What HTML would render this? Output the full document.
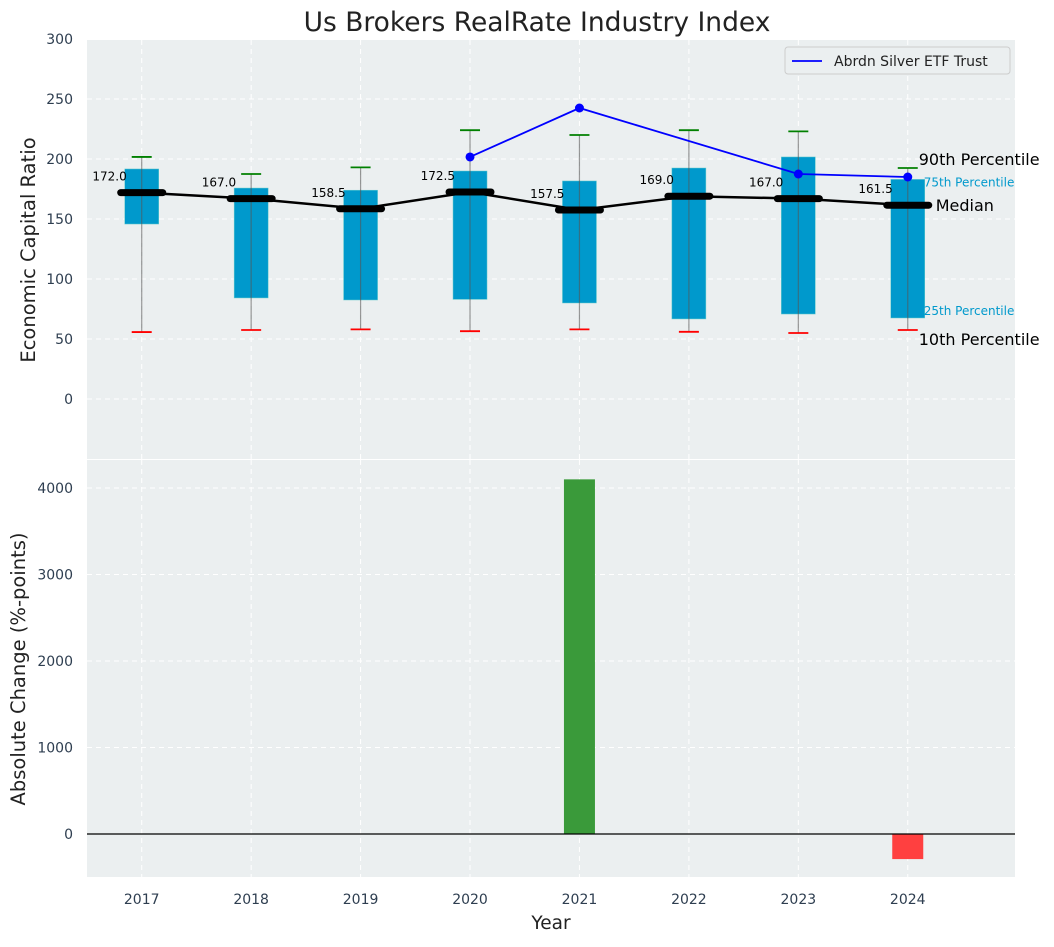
<!DOCTYPE html>
<html><head><meta charset="utf-8"><style>
body{margin:0;background:#fff;font-family:"Liberation Sans","DejaVu Sans",sans-serif}
svg text{font-family:"DejaVu Sans","Liberation Sans",sans-serif}
</style></head><body>
<svg id="c" width="1054" height="942" xmlns="http://www.w3.org/2000/svg"></svg>
<script>
const years=['2017','2018','2019','2020','2021','2022','2023','2024'];
const q1=[145.8,84.2,82.5,83,80,66.7,70.8,67.5];
const q3=[191.7,175.8,174,190,181.7,192.5,201.7,183];
const p10=[55.8,57.5,58,56.5,58,56,55,57.5];
const p90=[201.7,187.5,193,224,220,224,223,192.5];
const med=[172.0,167.0,158.5,172.5,157.5,169.0,167.0,161.5];
const silverIdx=[3,4,6,7];
const silverVals=[201.7,242.5,187.5,185];
const changeVals=[0,0,0,0,4100,0,0,-290];
const topTicks=[0,50,100,150,200,250,300];
const botTicks=[0,1000,2000,3000,4000];

const NS='http://www.w3.org/2000/svg';
const svg=document.getElementById('c');
function el(t,a,txt){const e=document.createElementNS(NS,t);for(const k in a)e.setAttribute(k,a[k]);if(txt!==undefined)e.textContent=txt;svg.appendChild(e);return e;}
const L=87,R=1015;
const x=i=>L+(i+0.5)*(R-L)/8.48;
const yT=v=>399-v*1.2;
const yB=v=>834-v*0.0865;

let e;
e=el('rect',{x:L,y:40,width:R-L,height:419,fill:'#ebeff0'});


e=el('rect',{x:L,y:460,width:R-L,height:417,fill:'#ebeff0'});



topTicks.forEach(v=>{
  el('line',{x1:L,x2:R,y1:yT(v),y2:yT(v),stroke:'#fff','stroke-dasharray':'5,4','stroke-width':1});
  e=el('text',{x:L-14,y:yT(v)+5,'text-anchor':'end','font-size':14,fill:'#2e3e50'},v);
  
  
});
botTicks.forEach(v=>{
  el('line',{x1:L,x2:R,y1:yB(v),y2:yB(v),stroke:'#fff','stroke-dasharray':'5,4','stroke-width':1});
  e=el('text',{x:L-14,y:yB(v)+5,'text-anchor':'end','font-size':14,fill:'#2e3e50'},v);
  
  
});
years.forEach((yr,i)=>{
  el('line',{x1:x(i),x2:x(i),y1:40,y2:459,stroke:'#fff','stroke-dasharray':'5,4'});
  el('line',{x1:x(i),x2:x(i),y1:460,y2:877,stroke:'#fff','stroke-dasharray':'5,4'});
  e=el('text',{x:x(i),y:904,'text-anchor':'middle','font-size':14,fill:'#2e3e50'},yr);
  
  
});

years.forEach((yr,i)=>{
  const cx=x(i);
  e=el('rect',{x:cx-17,y:yT(q3[i]),width:34,height:yT(q1[i])-yT(q3[i]),fill:'#0099cc',stroke:'#6cc',"stroke-width":0.5});
  
  
  el('line',{x1:cx,x2:cx,y1:yT(p90[i]),y2:yT(p10[i]),stroke:'#555','stroke-opacity':0.6,'stroke-width':1.2});
  el('line',{x1:cx-10,x2:cx+10,y1:yT(p90[i]),y2:yT(p90[i]),stroke:'green','stroke-width':1.8});
  el('line',{x1:cx-10,x2:cx+10,y1:yT(p10[i]),y2:yT(p10[i]),stroke:'red','stroke-width':1.8});
});
e=el('polyline',{points:med.map((v,i)=>x(i)+','+yT(v)).join(' '),fill:'none',stroke:'#000','stroke-width':2.5});


med.forEach((v,i)=>{
  e=el('line',{x1:x(i)-21,x2:x(i)+21,y1:yT(v),y2:yT(v),stroke:'#000','stroke-width':7,'stroke-linecap':'round'});
  
  
  e=el('text',{x:x(i)-15,y:yT(v)-12,'text-anchor':'end','font-size':12,fill:'#000'},v.toFixed(1));
  
  
});
e=el('polyline',{points:silverIdx.map((k,j)=>x(k)+','+yT(silverVals[j])).join(' '),fill:'none',stroke:'blue','stroke-width':1.8});


silverIdx.forEach((k,j)=>{
  e=el('circle',{cx:x(k),cy:yT(silverVals[j]),r:4.5,fill:'blue'});
  
  
});
const ax=x(7);
[['90th Percentile',ax+11,yT(p90[7])-3,16,'#000'],['75th Percentile',ax+16,yT(q3[7])+7,12,'#0099cc'],['Median',ax+28,yT(med[7])+6,16,'#000'],['25th Percentile',ax+16,yT(q1[7])-3,12,'#0099cc'],['10th Percentile',ax+11,yT(p10[7])+15,16,'#000']].forEach(a=>{
  e=el('text',{x:a[1],y:a[2],'font-size':a[3],fill:a[4]},a[0]);
  
  
});
e=el('rect',{x:785,y:47,width:225,height:27,rx:3,fill:'#ebeff0',stroke:'#ccc'});


el('line',{x1:792,x2:822,y1:61,y2:61,stroke:'blue','stroke-width':1.8});
e=el('text',{x:834,y:66,'font-size':14,fill:'#222'},'Abrdn Silver ETF Trust');



changeVals.forEach((v,i)=>{
  if(!v)return;
  e=el('rect',{x:x(i)-15.5,y:Math.min(yB(v),yB(0)),width:31,height:Math.abs(yB(v)-yB(0)),fill:v>0?'#3a9a3a':'#ff4040'});
  
  
});
el('line',{x1:L,x2:R,y1:yB(0),y2:yB(0),stroke:'#000','stroke-width':1.2});

e=el('text',{x:537,y:31,'text-anchor':'middle','font-size':26.5,fill:'#222'},'Us Brokers RealRate Industry Index');


e=el('text',{x:0,y:0,'text-anchor':'middle','font-size':19.5,fill:'#222',transform:'translate(35,250) rotate(-90)'},'Economic Capital Ratio');


e=el('text',{x:0,y:0,'text-anchor':'middle','font-size':19.5,fill:'#222',transform:'translate(25,669) rotate(-90)'},'Absolute Change (%-points)');


e=el('text',{x:551,y:929,'text-anchor':'middle','font-size':18.5,fill:'#222'},'Year');


</script>
</body></html>
